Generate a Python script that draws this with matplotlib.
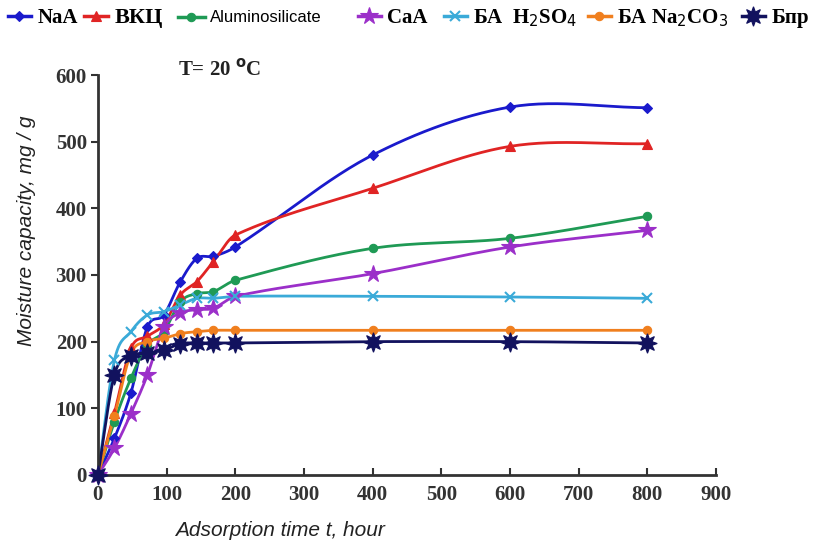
import numpy as np
import matplotlib
matplotlib.use("Agg")
import matplotlib.pyplot as plt

# ---------------- data ----------------
time_h = [0, 24, 48, 72, 96, 120, 144, 168, 200, 400, 600, 800]
naa = [0, 55, 123, 222, 240, 290, 325, 328, 342, 480, 552, 551]
vkc = [0, 93, 190, 208, 226, 270, 290, 320, 360, 430, 493, 497]
alumino = [0, 80, 145, 195, 215, 260, 272, 275, 292, 340, 355, 388]
caa = [0, 40, 92, 150, 222, 243, 248, 250, 268, 302, 342, 367]
ba_h2so4 = [0, 172, 215, 240, 245, 255, 265, 265, 268, 268, 267, 265]
ba_na2co3 = [0, 88, 182, 200, 205, 212, 215, 217, 217, 217, 217, 217]
bpr = [0, 150, 178, 183, 187, 197, 198, 198, 198, 200, 200, 198]

x_ticks = [0, 100, 200, 300, 400, 500, 600, 700, 800, 900]
y_ticks = [0, 100, 200, 300, 400, 500, 600]


def smooth(x, y, n=30):
    """Smoothed line through the points (cubic Hermite, finite-difference tangents)."""
    x = np.asarray(x, float)
    y = np.asarray(y, float)
    m = len(x)
    tang = np.zeros(m)
    for i in range(m):
        a = max(i - 1, 0)
        b = min(i + 1, m - 1)
        tang[i] = (y[b] - y[a]) / (x[b] - x[a])
    xs, ys = [], []
    t = np.linspace(0, 1, n)
    for i in range(m - 1):
        h = x[i + 1] - x[i]
        h00 = 2 * t ** 3 - 3 * t ** 2 + 1
        h10 = t ** 3 - 2 * t ** 2 + t
        h01 = -2 * t ** 3 + 3 * t ** 2
        h11 = t ** 3 - t ** 2
        xs.extend(x[i] + t * h)
        ys.extend(h00 * y[i] + h10 * h * tang[i] + h01 * y[i + 1] + h11 * h * tang[i + 1])
    return np.array(xs), np.array(ys)


fig = plt.figure(figsize=(8.23, 5.44), dpi=100)
ax = fig.add_axes([0.119, 0.127, 0.751, 0.735])

series = [
    ("NaA", naa, "#1a1acc", "D", 5),
    ("ВКЦ", vkc, "#e02424", "^", 7),
    ("Aluminosilicate", alumino, "#1f9a55", "o", 6),
    ("CaA", caa, "#9b2fc9", "*", 13),
    ("БА  H$_2$SO$_4$", ba_h2so4, "#3aaad8", "x", 7),
    ("БА Na$_2$CO$_3$", ba_na2co3, "#f07f1e", "o", 6),
    ("Бпр", bpr, "#12125e", (8, 1, 0), 14),
]

handles = []
for name, vals, col, mk, ms in series:
    sx, sy = smooth(time_h, vals)
    ax.plot(sx, sy, color=col, lw=2, zorder=2, clip_on=False)
    ax.plot(time_h, vals, linestyle="none", marker=mk, markersize=ms,
            color=col, markeredgecolor=col, markeredgewidth=1.5 if mk == "x" else 0.8,
            zorder=3, clip_on=False)
    h, = ax.plot([], [], color=col, lw=2.5, marker=mk, markersize=ms,
                 markeredgecolor=col, markeredgewidth=1.5 if mk == "x" else 0.8)
    handles.append(h)

ax.set_xlim(0, 900)
ax.set_ylim(0, 600)
ax.set_xticks(x_ticks)
ax.set_yticks(y_ticks)
for s in ["top", "right"]:
    ax.spines[s].set_visible(False)
for s in ["left", "bottom"]:
    ax.spines[s].set_linewidth(2)
    ax.spines[s].set_color("#333333")

ax.tick_params(axis="y", direction="out", length=5, width=1.5, color="#333333", pad=3)
ax.tick_params(axis="x", direction="in", length=5, width=1.5, color="#333333", pad=7)
for lab in ax.get_xticklabels() + ax.get_yticklabels():
    lab.set_fontfamily("Liberation Serif")
    lab.set_fontweight("bold")
    lab.set_fontsize(15)
    lab.set_color("#333333")

ax.set_xlabel("Adsorption time t, hour", fontfamily="Liberation Sans", fontstyle="italic",
              fontsize=15, color="#222222")
ax.xaxis.set_label_coords(0.295, -0.115)
ax.set_ylabel("Moisture capacity, mg / g", fontfamily="Liberation Sans", fontstyle="italic",
              fontsize=15, color="#222222")
ax.yaxis.set_label_coords(-0.1, 0.61)

ax.text(116, 608, "T= 20 $^{\\mathbf{o}}$C", fontfamily="Liberation Serif", fontweight="bold",
        fontsize=15, color="#222222", va="center", ha="left")

# legend entries, placed individually along the top
leg_x = [8, 84, 178, 358, 444, 588, 742]
leg_size = [15, 16, 12, 15, 15, 15, 15]
for i, (h, s) in enumerate(zip(handles, series)):
    if i == 2:
        prop = dict(family="Liberation Sans", size=leg_size[i])
        hl = 1.6
    else:
        prop = dict(family="Liberation Serif", weight="bold", size=leg_size[i])
        hl = 1.1
    fig.legend([h], [s[0]], loc="center left",
               bbox_to_anchor=(leg_x[i] / 823, 1 - 18 / 544),
               frameon=False, handlelength=hl,
               handletextpad=0.3, borderpad=0, borderaxespad=0,
               prop=prop)

fig.savefig("out.png", dpi=100)
